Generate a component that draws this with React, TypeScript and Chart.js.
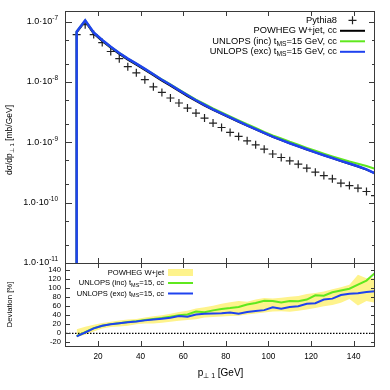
import React, { useEffect, useRef } from "react";
import { Chart, registerables } from "chart.js";
Chart.register(...registerables);

const FONT = '"Liberation Sans", Arial, Helvetica, sans-serif';

// ---------- data ----------
const ptBins = [10, 14, 18, 22, 26, 30, 34, 38, 42, 46, 50, 54, 58, 62, 66, 70, 74, 78, 82, 86, 90, 94, 98, 102, 106, 110, 114, 118, 122, 126, 130, 134, 138, 142, 146, 150];

const pythia8 = [6.1e-8, 8.9e-8, 6.1e-8, 4.5e-8, 3.2e-8, 2.43e-8, 1.79e-8, 1.42e-8, 1.09e-8, 8.3e-9, 6.7e-9, 5.42e-9, 4.48e-9, 3.7e-9, 3.05e-9, 2.52e-9, 2.08e-9, 1.76e-9, 1.46e-9, 1.25e-9, 1.06e-9, 9.1e-10, 7.7e-10, 6.4e-10, 5.6e-10, 4.93e-10, 4.35e-10, 3.73e-10, 3.2e-10, 2.81e-10, 2.48e-10, 2.1e-10, 1.92e-10, 1.74e-10, 1.53e-10, 1.31e-10];

const powheg = [6.6e-8, 1.02e-7, 6.35e-8, 4.8e-8, 3.68e-8, 2.92e-8, 2.35e-8, 1.94e-8, 1.59e-8, 1.3e-8, 1.05e-8, 8.7e-9, 7.1e-9, 5.85e-9, 4.85e-9, 4.07e-9, 3.45e-9, 2.96e-9, 2.55e-9, 2.19e-9, 1.89e-9, 1.64e-9, 1.42e-9, 1.23e-9, 1.09e-9, 9.6e-10, 8.55e-10, 7.62e-10, 6.8e-10, 6.08e-10, 5.46e-10, 4.9e-10, 4.42e-10, 3.98e-10, 3.52e-10, 3.05e-10];

const unlopsInc = [6.82e-8, 1.05e-7, 6.6e-8, 4.97e-8, 3.82e-8, 3.03e-8, 2.44e-8, 2.01e-8, 1.65e-8, 1.35e-8, 1.1e-8, 9.1e-9, 7.45e-9, 6.15e-9, 5.12e-9, 4.32e-9, 3.64e-9, 3.12e-9, 2.69e-9, 2.31e-9, 1.99e-9, 1.73e-9, 1.49e-9, 1.3e-9, 1.16e-9, 1.02e-9, 9.1e-10, 8.1e-10, 7.25e-10, 6.5e-10, 5.85e-10, 5.3e-10, 4.8e-10, 4.4e-10, 4.05e-10, 3.65e-10];

const unlopsExc = [6.82e-8, 1.05e-7, 6.59e-8, 4.97e-8, 3.82e-8, 3.03e-8, 2.44e-8, 2.01e-8, 1.65e-8, 1.34e-8, 1.09e-8, 9.0e-9, 7.34e-9, 6.02e-9, 4.98e-9, 4.18e-9, 3.52e-9, 3.01e-9, 2.59e-9, 2.22e-9, 1.91e-9, 1.66e-9, 1.43e-9, 1.24e-9, 1.1e-9, 9.66e-10, 8.59e-10, 7.66e-10, 6.83e-10, 6.11e-10, 5.49e-10, 4.93e-10, 4.45e-10, 4.01e-10, 3.55e-10, 3.07e-10];

const bandLow = [-8, -3, 4, 11, 14, 15, 17, 20, 22, 22, 23.5, 26, 28, 29.5, 31.5, 35, 36.5, 37.5, 38.7, 39, 42, 43.8, 46, 48.5, 49, 48, 50, 53, 56.5, 60, 63, 68, 76, 62, 72, 68];
const bandHigh = [9, 14.6, 19, 23, 26, 28.5, 31, 32, 35, 38, 40, 43.5, 47.5, 50, 55, 58, 61.5, 65.5, 69, 71.6, 70, 75, 78.5, 77.5, 79, 81, 83, 87.5, 89.5, 93, 98, 102.5, 108, 130, 122, 123];
const devInc = [-6, 2.5, 11.5, 17, 20.5, 22.5, 25, 27, 29.5, 32, 34, 37, 40, 42, 48.5, 47, 51, 54, 56, 58.5, 64, 67.5, 72.5, 71.6, 68.5, 71.6, 71, 75, 84.5, 83.5, 91, 95, 99, 108, 117, 134];
const devExc = [-6.5, 2, 11, 17, 20, 22.5, 24.5, 26.3, 28.8, 30.8, 32.6, 34.8, 38.5, 37, 42, 43.5, 43.8, 44.5, 46, 43.5, 47.5, 49.6, 51.5, 58, 54.7, 58.4, 60, 65.5, 67, 75, 77, 85, 88, 89, 91.5, 93.4];

const xTicks = [20, 40, 60, 80, 100, 120, 140];
const logExponents = [-11, -10, -9, -8, -7];
const logMinorMantissas = [2, 5];
const devTicks = [-20, 0, 20, 40, 60, 80, 100, 120, 140];

const X_MIN = 5;
const X_MAX = 150;
const Y_MIN = 1e-11;
const Y_MAX = 1.5e-7;
const DEV_MIN = -28;
const DEV_MAX = 156;
const DROP_VALUE = 1e-13; // histogram edge drops below the axis at the first bin
const ZERO_REF = 0;

// ---------- colours ----------
const C_BLACK = "#000000";
const C_GREEN = "#5fe81e";
const C_BLUE = "#1f42ef";
const C_BAND = "rgb(254,243,140)";
const C_FRAME = "#3a3a3a";
const C_CROSS = "#222222";

type Part = { t: string; size: number; dy: number };

function drawRich(ctx: CanvasRenderingContext2D, parts: Part[], x: number, y: number, align: "left" | "right" | "center") {
  let w = 0;
  for (const p of parts) {
    ctx.font = `${p.size}px ${FONT}`;
    w += ctx.measureText(p.t).width;
  }
  let cx = align === "left" ? x : align === "right" ? x - w : x - w / 2;
  ctx.textAlign = "left";
  ctx.textBaseline = "middle";
  for (const p of parts) {
    ctx.font = `${p.size}px ${FONT}`;
    ctx.fillText(p.t, cx, y + p.dy);
    cx += ctx.measureText(p.t).width;
  }
}

const mk = (size: number) => ({
  txt: (t: string): Part => ({ t, size, dy: 0 }),
  sub: (t: string): Part => ({ t, size: size * 0.72, dy: size * 0.28 }),
  sup: (t: string): Part => ({ t, size: size * 0.72, dy: -size * 0.38 }),
});
const F9 = mk(9);
const FL = mk(9.3);
const FB = mk(7.6);
const FT = mk(8.5);

const topLegend: Part[][] = [
  [FL.txt("Pythia8")],
  [FL.txt("POWHEG W+jet, cc")],
  [FL.txt("UNLOPS (inc) t"), FL.sub("MS"), FL.txt("=15 GeV, cc")],
  [FL.txt("UNLOPS (exc) t"), FL.sub("MS"), FL.txt("=15 GeV, cc")],
];
const bottomLegend: Part[][] = [
  [FB.txt("POWHEG W+jet")],
  [FB.txt("UNLOPS (inc) t"), FB.sub("MS"), FB.txt("=15, cc")],
  [FB.txt("UNLOPS (exc) t"), FB.sub("MS"), FB.txt("=15, cc")],
];

function frameAndXTicks(ctx: CanvasRenderingContext2D, chart: any) {
  const a = chart.chartArea;
  const xs = chart.scales.x;
  ctx.save();
  ctx.strokeStyle = C_FRAME;
  ctx.lineWidth = 1;
  ctx.strokeRect(Math.round(a.left) - 0.5, Math.round(a.top) + 0.5, Math.round(a.right - a.left), Math.round(a.bottom - a.top));
  ctx.beginPath();
  for (const v of xTicks) {
    const px = Math.round(xs.getPixelForValue(v)) + 0.5;
    ctx.moveTo(px, a.top);
    ctx.lineTo(px, a.top + 5);
    ctx.moveTo(px, a.bottom);
    ctx.lineTo(px, a.bottom - 5);
  }
  ctx.stroke();
  ctx.restore();
}

const topPlugin = {
  id: "topFrame",
  afterDraw(chart: any) {
    const ctx: CanvasRenderingContext2D = chart.ctx;
    const a = chart.chartArea;
    const ys = chart.scales.y;
    frameAndXTicks(ctx, chart);
    ctx.save();
    ctx.strokeStyle = C_FRAME;
    ctx.lineWidth = 1;
    ctx.beginPath();
    for (const e of logExponents) {
      const py = Math.round(ys.getPixelForValue(Math.pow(10, e))) + 0.5;
      ctx.moveTo(a.left, py);
      ctx.lineTo(a.left + 6, py);
      ctx.moveTo(a.right, py);
      ctx.lineTo(a.right - 6, py);
      for (const m of logMinorMantissas) {
        const v = m * Math.pow(10, e);
        if (v > Y_MAX) continue;
        const pm = Math.round(ys.getPixelForValue(v)) + 0.5;
        ctx.moveTo(a.left, pm);
        ctx.lineTo(a.left + 3, pm);
        ctx.moveTo(a.right, pm);
        ctx.lineTo(a.right - 3, pm);
      }
    }
    ctx.stroke();
    ctx.fillStyle = "#000";
    for (const e of logExponents) {
      const py = ys.getPixelForValue(Math.pow(10, e));
      drawRich(ctx, [F9.txt("1.0·10"), F9.sup(String(e))], a.left - 8, py, "right");
    }
    // y title
    ctx.save();
    ctx.translate(10, (a.top + a.bottom) / 2 + 3);
    ctx.rotate(-Math.PI / 2);
    drawRich(ctx, [FT.txt("dσ/dp"), FT.sub("⊥ 1"), FT.txt(" [mb/GeV]")], 0, 0, "center");
    ctx.restore();
    // legend
    const lx = a.right - 38;
    const sx0 = a.right - 35;
    const sx1 = a.right - 10;
    topLegend.forEach((parts, i) => {
      const y = a.top + 9.3 + i * 10.5;
      ctx.fillStyle = "#000";
      drawRich(ctx, parts, lx, y, "right");
      ctx.beginPath();
      if (i === 0) {
        const cx = (sx0 + sx1) / 2;
        ctx.strokeStyle = C_CROSS;
        ctx.lineWidth = 1.2;
        ctx.moveTo(cx - 4, y);
        ctx.lineTo(cx + 4, y);
        ctx.moveTo(cx, y - 4);
        ctx.lineTo(cx, y + 4);
      } else {
        ctx.strokeStyle = i === 1 ? C_BLACK : i === 2 ? C_GREEN : C_BLUE;
        ctx.lineWidth = 2;
        ctx.moveTo(sx0, y);
        ctx.lineTo(sx1, y);
      }
      ctx.stroke();
    });
    ctx.restore();
  },
};

const bottomPlugin = {
  id: "bottomFrame",
  afterDraw(chart: any) {
    const ctx: CanvasRenderingContext2D = chart.ctx;
    const a = chart.chartArea;
    const ys = chart.scales.y;
    const xs = chart.scales.x;
    frameAndXTicks(ctx, chart);
    ctx.save();
    ctx.strokeStyle = C_FRAME;
    ctx.lineWidth = 1;
    ctx.beginPath();
    for (const v of devTicks) {
      const py = Math.round(ys.getPixelForValue(v)) + 0.5;
      ctx.moveTo(a.left, py);
      ctx.lineTo(a.left + 4, py);
      ctx.moveTo(a.right, py);
      ctx.lineTo(a.right - 4, py);
    }
    ctx.stroke();
    ctx.fillStyle = "#000";
    for (const v of devTicks) {
      const py = ys.getPixelForValue(v);
      drawRich(ctx, [{ t: String(v), size: 7.6, dy: 0 }], a.left - 5, py, "right");
    }
    for (const v of xTicks) {
      const px = xs.getPixelForValue(v);
      drawRich(ctx, [{ t: String(v), size: 8.2, dy: 0 }], px, a.bottom + 11, "center");
    }
    drawRich(ctx, [{ t: "p", size: 10, dy: 0 }, { t: "⊥ 1", size: 7, dy: 3 }, { t: " [GeV]", size: 10, dy: 0 }], (a.left + a.right) / 2, a.bottom + 27, "center");
    ctx.save();
    ctx.translate(10, (a.top + a.bottom) / 2);
    ctx.rotate(-Math.PI / 2);
    drawRich(ctx, [{ t: "Deviation [%]", size: 7.8, dy: 0 }], 0, 0, "center");
    ctx.restore();
    // legend
    const lx = 164;
    const sx0 = 168;
    const sx1 = 193;
    bottomLegend.forEach((parts, i) => {
      const y = a.top + 9.5 + i * 10.5;
      ctx.fillStyle = "#000";
      drawRich(ctx, parts, lx, y, "right");
      if (i === 0) {
        ctx.fillStyle = C_BAND;
        ctx.fillRect(sx0, y - 3.5, sx1 - sx0, 7);
      } else {
        ctx.beginPath();
        ctx.strokeStyle = i === 1 ? C_GREEN : C_BLUE;
        ctx.lineWidth = 2;
        ctx.moveTo(sx0, y);
        ctx.lineTo(sx1, y);
        ctx.stroke();
      }
    });
    ctx.restore();
  },
};

const withDrop = (vals: number[]) => [{ x: ptBins[0], y: DROP_VALUE }, ...ptBins.map((x, i) => ({ x, y: vals[i] }))];
const pts = (vals: number[]) => ptBins.map((x, i) => ({ x, y: vals[i] }));

const lineDs = (label: string, data: any[], color: string, order: number, width = 2) => ({
  label,
  data,
  borderColor: color,
  backgroundColor: color,
  borderWidth: width,
  pointRadius: 0,
  tension: 0,
  fill: false,
  order,
});

export default function App() {
  const topRef = useRef<HTMLCanvasElement>(null);
  const botRef = useRef<HTMLCanvasElement>(null);

  useEffect(() => {
    const common = {
      animation: false as const,
      responsive: false,
      maintainAspectRatio: false,
      events: [] as any[],
      plugins: { legend: { display: false }, tooltip: { enabled: false } },
    };
    const top = new Chart(topRef.current!, {
      type: "line",
      data: {
        datasets: [
          lineDs("UNLOPS (exc) tMS=15 GeV, cc", withDrop(unlopsExc), C_BLUE, 0, 2.5),
          lineDs("UNLOPS (inc) tMS=15 GeV, cc", withDrop(unlopsInc), C_GREEN, 1),
          lineDs("POWHEG W+jet, cc", withDrop(powheg), C_BLACK, 2),
          {
            label: "Pythia8",
            data: pts(pythia8),
            showLine: false,
            pointStyle: "cross",
            pointRadius: 4,
            borderColor: C_CROSS,
            backgroundColor: C_CROSS,
            pointBorderWidth: 1.2,
            order: 3,
          } as any,
        ],
      },
      options: {
        ...common,
        layout: { padding: { left: 66, right: 15, top: 11, bottom: 127 } },
        scales: {
          x: { type: "linear", min: X_MIN, max: X_MAX, display: false },
          y: { type: "logarithmic", min: Y_MIN, max: Y_MAX, display: false },
        },
      } as any,
      plugins: [topPlugin],
    });

    const bottom = new Chart(botRef.current!, {
      type: "line",
      data: {
        datasets: [
          lineDs("UNLOPS (exc) tMS=15, cc", pts(devExc), C_BLUE, 0),
          lineDs("UNLOPS (inc) tMS=15, cc", pts(devInc), C_GREEN, 1),
          {
            ...lineDs("zero", [{ x: X_MIN, y: ZERO_REF }, { x: X_MAX, y: ZERO_REF }], "#000", 2, 1.3),
            borderDash: [1.5, 1.5],
          },
          { ...lineDs("band low", pts(bandLow), "rgba(0,0,0,0)", 3, 0) },
          {
            ...lineDs("POWHEG W+jet", pts(bandHigh), "rgba(0,0,0,0)", 4, 0),
            fill: "-1",
            backgroundColor: C_BAND,
          },
        ],
      },
      options: {
        ...common,
        layout: { padding: { left: 66, right: 15, top: 263, bottom: 44 } },
        scales: {
          x: { type: "linear", min: X_MIN, max: X_MAX, display: false },
          y: { type: "linear", min: DEV_MIN, max: DEV_MAX, display: false },
        },
      } as any,
      plugins: [bottomPlugin],
    });

    return () => {
      top.destroy();
      bottom.destroy();
    };
  }, []);

  const cs: React.CSSProperties = { position: "absolute", left: 0, top: 0, width: 390, height: 390 };
  return (
    <div style={{ position: "absolute", left: 0, top: 0, width: 390, height: 390, background: "#fff" }}>
      <canvas ref={botRef} width={390} height={390} style={cs} />
      <canvas ref={topRef} width={390} height={390} style={cs} />
    </div>
  );
}
